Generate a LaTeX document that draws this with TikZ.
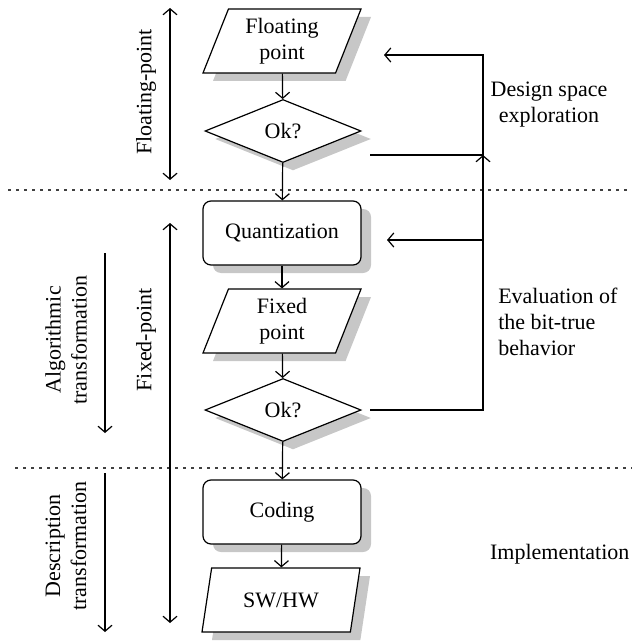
\documentclass[tikz,border=0pt]{standalone}
\usepackage{fontspec}
\setmainfont{Liberation Serif}
\usetikzlibrary{shapes.geometric,shadows,arrows.meta}

\tikzset{
	flowshadow/.style={drop shadow={shadow xshift=5pt, shadow yshift=-4pt, fill=black!22, opacity=1}},
	datum/.style={trapezium, trapezium left angle=63, trapezium right angle=117, trapezium stretches body,
		draw, fill=white, flowshadow, minimum width=79pt, minimum height=32pt, align=center, inner sep=1pt},
	step box/.style={rectangle, rounded corners=4pt, draw, fill=white, flowshadow, minimum width=79pt, minimum height=32pt},
	check/.style={diamond, draw, fill=white, flowshadow, minimum width=78pt, minimum height=31.5pt, inner sep=0pt},
	arr/.style={-{Straight Barb[length=3pt, width=7pt]}},
	dblarr/.style={{Straight Barb[length=3pt, width=7pt]}-{Straight Barb[length=3pt, width=7pt]}},
	sep/.style={dash pattern=on 1.5pt off 2.5pt, black!75}
}

\begin{document}
\begin{tikzpicture}[x=0.5pt, y=-0.5pt, line width=0.6pt, font=\fontsize{11}{13}\selectfont]
			%%%%% START %%%%%
			\useasboundingbox (0, 0) rectangle (632, 642);
			
			% separators
			\draw[sep] (8, 190) -- (632, 190);
			\draw[sep] (15, 468) -- (632, 468);
			
			% flow
			\node[datum] (float) at (282, 41) {Floating\\point};
			\node[check] (ok1) at (283, 131) {Ok?};
			\node[step box] (quant) at (282, 233) {Quantization};
			\node[datum] (fixed) at (282, 321) {Fixed\\point};
			\node[check] (ok2) at (283, 410) {Ok?};
			\node[step box] (coding) at (282, 512) {Coding};
			\node[datum] (swhw) at (281, 600) {SW/HW};
			
			\draw[arr] (float) -- (ok1);
			\draw[arr] (ok1) -- (quant);
			\draw[arr] (quant) -- (fixed);
			\draw[arr] (fixed) -- (ok2);
			\draw[arr] (ok2) -- (coding);
			\draw[arr] (coding) -- (swhw);
			
			% feedback loops
			\coordinate (ok1out) at (370, 155);
			\coordinate (ok2out) at (370, 410);
			\coordinate (loopA) at (483, 55);
			\coordinate (loopB) at (483, 155);
			\coordinate (loopM) at (483, 240);
			\coordinate (loopC) at (483, 410);
			\coordinate (floatin) at (384, 55);
			\coordinate (quantin) at (387, 240);
			
			\draw[arr] (ok1out) -- (loopB) -- (loopA) -- (floatin);
			\draw[arr] (ok2out) -- (loopC) -- (loopB);
			\draw[arr] (loopM) -- (quantin);
			
			% right labels
			\node[align=center] (design) at (549, 105) {Design space\\exploration};
			\node[align=left, anchor=west] (evalu) at (491, 322) {Evaluation of\\the bit-true\\behavior};
			\node[anchor=east, inner sep=0pt] (impl) at (630, 554) {Implementation};
			
			% left ranges
			\draw[dblarr] (170, 8) -- (170, 180);
			\node[rotate=90] (flp) at (146, 92) {Floating-point};
			\draw[dblarr] (170, 223) -- (170, 623);
			\node[rotate=90] (fxp) at (146, 340) {Fixed-point};
			
			\draw[arr] (105, 253) -- (105, 433);
			\node[rotate=90, align=center] (algo) at (66, 340) {Algorithmic\\transformation};
			\draw[arr] (105, 473) -- (105, 632);
			\node[rotate=90, align=center] (descr) at (66, 546) {Description\\transformation};
			
			%%%%% END %%%%%
\end{tikzpicture}
\end{document}
